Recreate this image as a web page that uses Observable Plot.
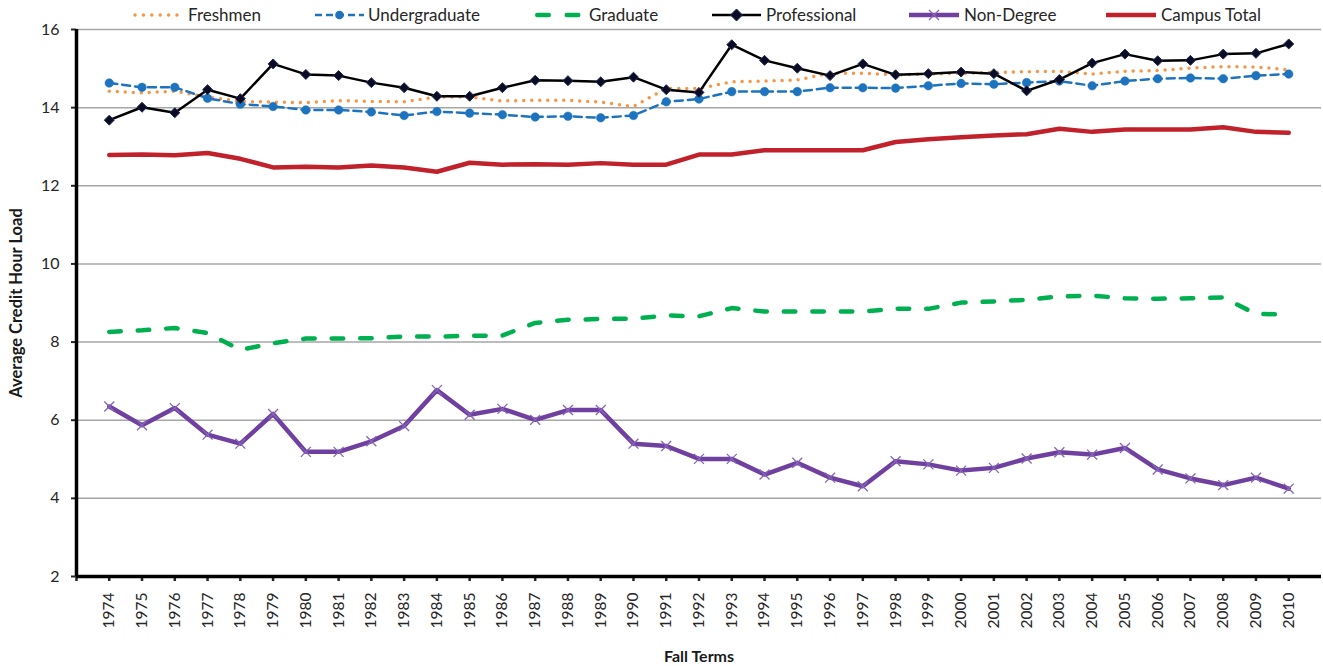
<!DOCTYPE html>
<html><head><meta charset="utf-8">
<script src="https://cdn.jsdelivr.net/npm/d3@7"></script>
<script src="https://cdn.jsdelivr.net/npm/@observablehq/plot@0.6"></script>
<style>
body{margin:0;background:#fff;font-family:Lato,sans-serif;}
#wrap{position:relative;width:1323px;height:666px;}
#chart{position:absolute;left:0;top:0;}
#legend{position:absolute;left:0;top:0;width:1323px;height:30px;}
</style></head>
<body>
<div id="wrap"><div id="chart"></div><div id="legend"></div></div>
<script>
const years = [1974,1975,1976,1977,1978,1979,1980,1981,1982,1983,1984,1985,1986,1987,1988,1989,1990,1991,1992,1993,1994,1995,1996,1997,1998,1999,2000,2001,2002,2003,2004,2005,2006,2007,2008,2009,2010];
const freshmen = [14.42,14.38,14.42,14.27,14.16,14.14,14.13,14.18,14.16,14.15,14.27,14.27,14.17,14.19,14.19,14.14,14.03,14.49,14.49,14.66,14.68,14.71,14.88,14.88,14.84,14.86,14.88,14.90,14.92,14.93,14.86,14.93,14.95,15.01,15.05,15.04,14.97];
const undergraduate = [14.63,14.52,14.52,14.24,14.09,14.03,13.94,13.94,13.89,13.80,13.90,13.86,13.82,13.76,13.78,13.74,13.80,14.15,14.22,14.41,14.41,14.41,14.51,14.51,14.50,14.56,14.62,14.60,14.64,14.68,14.56,14.68,14.74,14.76,14.74,14.82,14.86];
const graduate = [8.26,8.30,8.36,8.23,7.80,7.97,8.09,8.09,8.10,8.14,8.14,8.16,8.17,8.49,8.57,8.59,8.60,8.68,8.66,8.87,8.78,8.78,8.78,8.78,8.85,8.85,9.01,9.04,9.08,9.17,9.19,9.12,9.11,9.12,9.14,8.72,8.71];
const professional = [13.68,14.01,13.87,14.46,14.23,15.12,14.85,14.82,14.64,14.51,14.29,14.29,14.51,14.70,14.69,14.66,14.78,14.46,14.39,15.61,15.21,15.01,14.82,15.12,14.84,14.87,14.91,14.87,14.43,14.72,15.14,15.37,15.20,15.21,15.37,15.39,15.63];
const nonDegree = [6.35,5.87,6.31,5.63,5.40,6.16,5.19,5.19,5.46,5.85,6.77,6.14,6.29,6.01,6.26,6.26,5.40,5.34,5.01,5.01,4.61,4.91,4.53,4.31,4.95,4.87,4.71,4.78,5.02,5.18,5.12,5.29,4.74,4.51,4.34,4.53,4.25];
const campusTotal = [12.79,12.80,12.78,12.84,12.69,12.47,12.49,12.47,12.52,12.47,12.36,12.59,12.54,12.55,12.54,12.58,12.54,12.54,12.80,12.80,12.91,12.91,12.91,12.91,13.12,13.19,13.24,13.29,13.32,13.46,13.38,13.44,13.44,13.44,13.50,13.38,13.36];
const yTicks = [2,4,6,8,10,12,14,16];
const seriesNames = ["Freshmen","Undergraduate","Graduate","Professional","Non-Degree","Campus Total"];
const yTitle = "Average Credit Hour Load";
const xTitle = "Fall Terms";

const rows = years.map((y,i)=>({year:y, freshmen:freshmen[i], undergraduate:undergraduate[i], graduate:graduate[i], professional:professional[i], nonDegree:nonDegree[i], campusTotal:campusTotal[i]}));

const C = {orange:"#F79646", blue:"#1E73BE", green:"#00B050", black:"#000000", purple:"#7040A0", red:"#C0212B"};
const tickYears = [1973, ...years];

const chart = Plot.plot({
  width:1323, height:666,
  marginTop:29, marginBottom:90, marginLeft:76, marginRight:2,
  x:{type:"linear", domain:[1973,2011]},
  y:{domain:[2,16]},
  style:{fontFamily:"Lato, sans-serif", fontSize:"16px", color:"#262626", background:"white"},
  marks:[
    Plot.gridY(yTicks.filter(t=>t>2), {stroke:"#a6a6a6", strokeOpacity:1, strokeWidth:1.5}),
    Plot.axisY({ticks:yTicks, tickSize:5, tickPadding:12, label:null, strokeWidth:2, fontSize:16}),
    Plot.axisX({ticks:tickYears, tickSize:5, tickFormat:()=>"", label:null, strokeWidth:2.5}),
    Plot.text(years, {x:d=>d, text:d=>String(d), frameAnchor:"bottom", rotate:-90, textAnchor:"end", lineAnchor:"middle", dy:16, fontSize:15.5, fill:"#262626"}),
    Plot.text([yTitle], {frameAnchor:"left", dx:-60, rotate:-90, textAnchor:"middle", lineAnchor:"middle", fontWeight:"bold", fontSize:16.5, fill:"#1a1a1a"}),
    Plot.text([xTitle], {frameAnchor:"bottom", dy:80, textAnchor:"middle", lineAnchor:"middle", fontWeight:"bold", fontSize:16, fill:"#1a1a1a"}),
    Plot.line(rows, {x:"year", y:"freshmen", stroke:C.orange, strokeWidth:3.5, strokeDasharray:"0,8", strokeLinecap:"round"}),
    Plot.line(rows, {x:"year", y:"undergraduate", stroke:C.blue, strokeWidth:2.5, strokeDasharray:"8,5"}),
    Plot.dot(rows, {x:"year", y:"undergraduate", r:4.3, fill:C.blue, stroke:C.blue, strokeWidth:0.5}),
    Plot.line(rows, {x:"year", y:"graduate", stroke:C.green, strokeWidth:4.5, strokeDasharray:"11.5,17", strokeLinecap:"round"}),
    Plot.line(rows, {x:"year", y:"professional", stroke:C.black, strokeWidth:2.5}),
    Plot.dot(rows, {x:"year", y:"professional", symbol:"diamond2", r:4.5, fill:"#0b0b24", stroke:"#1f2a5a", strokeWidth:1}),
    Plot.line(rows, {x:"year", y:"nonDegree", stroke:C.purple, strokeWidth:4.5}),
    Plot.dot(rows, {x:"year", y:"nonDegree", symbol:"times", r:4.6, stroke:"#8565b8", strokeWidth:1.3}),
    Plot.line(rows, {x:"year", y:"campusTotal", stroke:C.red, strokeWidth:4.5}),
    Plot.ruleY([2], {stroke:"#000", strokeWidth:3.5}),
    Plot.ruleX([1973], {stroke:"#000", strokeWidth:3.5})
  ]
});
document.getElementById("chart").appendChild(chart);

const legendItems = [
  {name:seriesNames[0], left:133, text:188, kind:"dots", color:C.orange},
  {name:seriesNames[1], left:315, text:368, kind:"dashdot", color:C.blue},
  {name:seriesNames[2], left:535, text:589, kind:"dash", color:C.green},
  {name:seriesNames[3], left:712, text:766, kind:"diamond", color:C.black},
  {name:seriesNames[4], left:909, text:964, kind:"times", color:C.purple},
  {name:seriesNames[5], left:1106, text:1161, kind:"solid", color:C.red}
];
const leg = d3.select("#legend");
for (const it of legendItems) {
  const svg = leg.append("svg").style("position","absolute").style("left", it.left+"px").style("top","0px").style("overflow","visible").attr("width",52).attr("height",30);
  const y = 15;
  if (it.kind==="dots") {
    svg.append("line").attr("x1",2).attr("x2",46).attr("y1",y).attr("y2",y).attr("stroke",it.color).attr("stroke-width",3.5).attr("stroke-dasharray","0,8.4").attr("stroke-linecap","round");
  } else if (it.kind==="dashdot") {
    svg.append("line").attr("x1",0).attr("x2",49).attr("y1",y).attr("y2",y).attr("stroke",it.color).attr("stroke-width",2.5).attr("stroke-dasharray","7,4");
    svg.append("circle").attr("cx",24.5).attr("cy",y).attr("r",4.3).attr("fill",it.color);
  } else if (it.kind==="dash") {
    svg.append("line").attr("x1",2.25).attr("x2",46).attr("y1",y).attr("y2",y).attr("stroke",it.color).attr("stroke-width",4.5).attr("stroke-dasharray","11.5,18").attr("stroke-linecap","round");
  } else if (it.kind==="diamond") {
    svg.append("line").attr("x1",0).attr("x2",49).attr("y1",y).attr("y2",y).attr("stroke",it.color).attr("stroke-width",2.5);
    svg.append("path").attr("d","M24.5,9L30.5,15L24.5,21L18.5,15Z").attr("fill","#0b0b24").attr("stroke","#1f2a5a");
  } else if (it.kind==="times") {
    svg.append("line").attr("x1",0).attr("x2",50).attr("y1",y).attr("y2",y).attr("stroke",it.color).attr("stroke-width",4.5);
    svg.append("path").attr("d","M20,10L30,20M30,10L20,20").attr("stroke","#8565b8").attr("stroke-width",1.3);
  } else {
    svg.append("line").attr("x1",0).attr("x2",50).attr("y1",y).attr("y2",y).attr("stroke",it.color).attr("stroke-width",4.5);
  }
  leg.append("span").style("left", it.text+"px").style("position","absolute").style("top","0px").style("line-height","30px").style("font-size","17px").style("color","#262626").style("white-space","nowrap").text(it.name);
}
</script>
</body></html>
